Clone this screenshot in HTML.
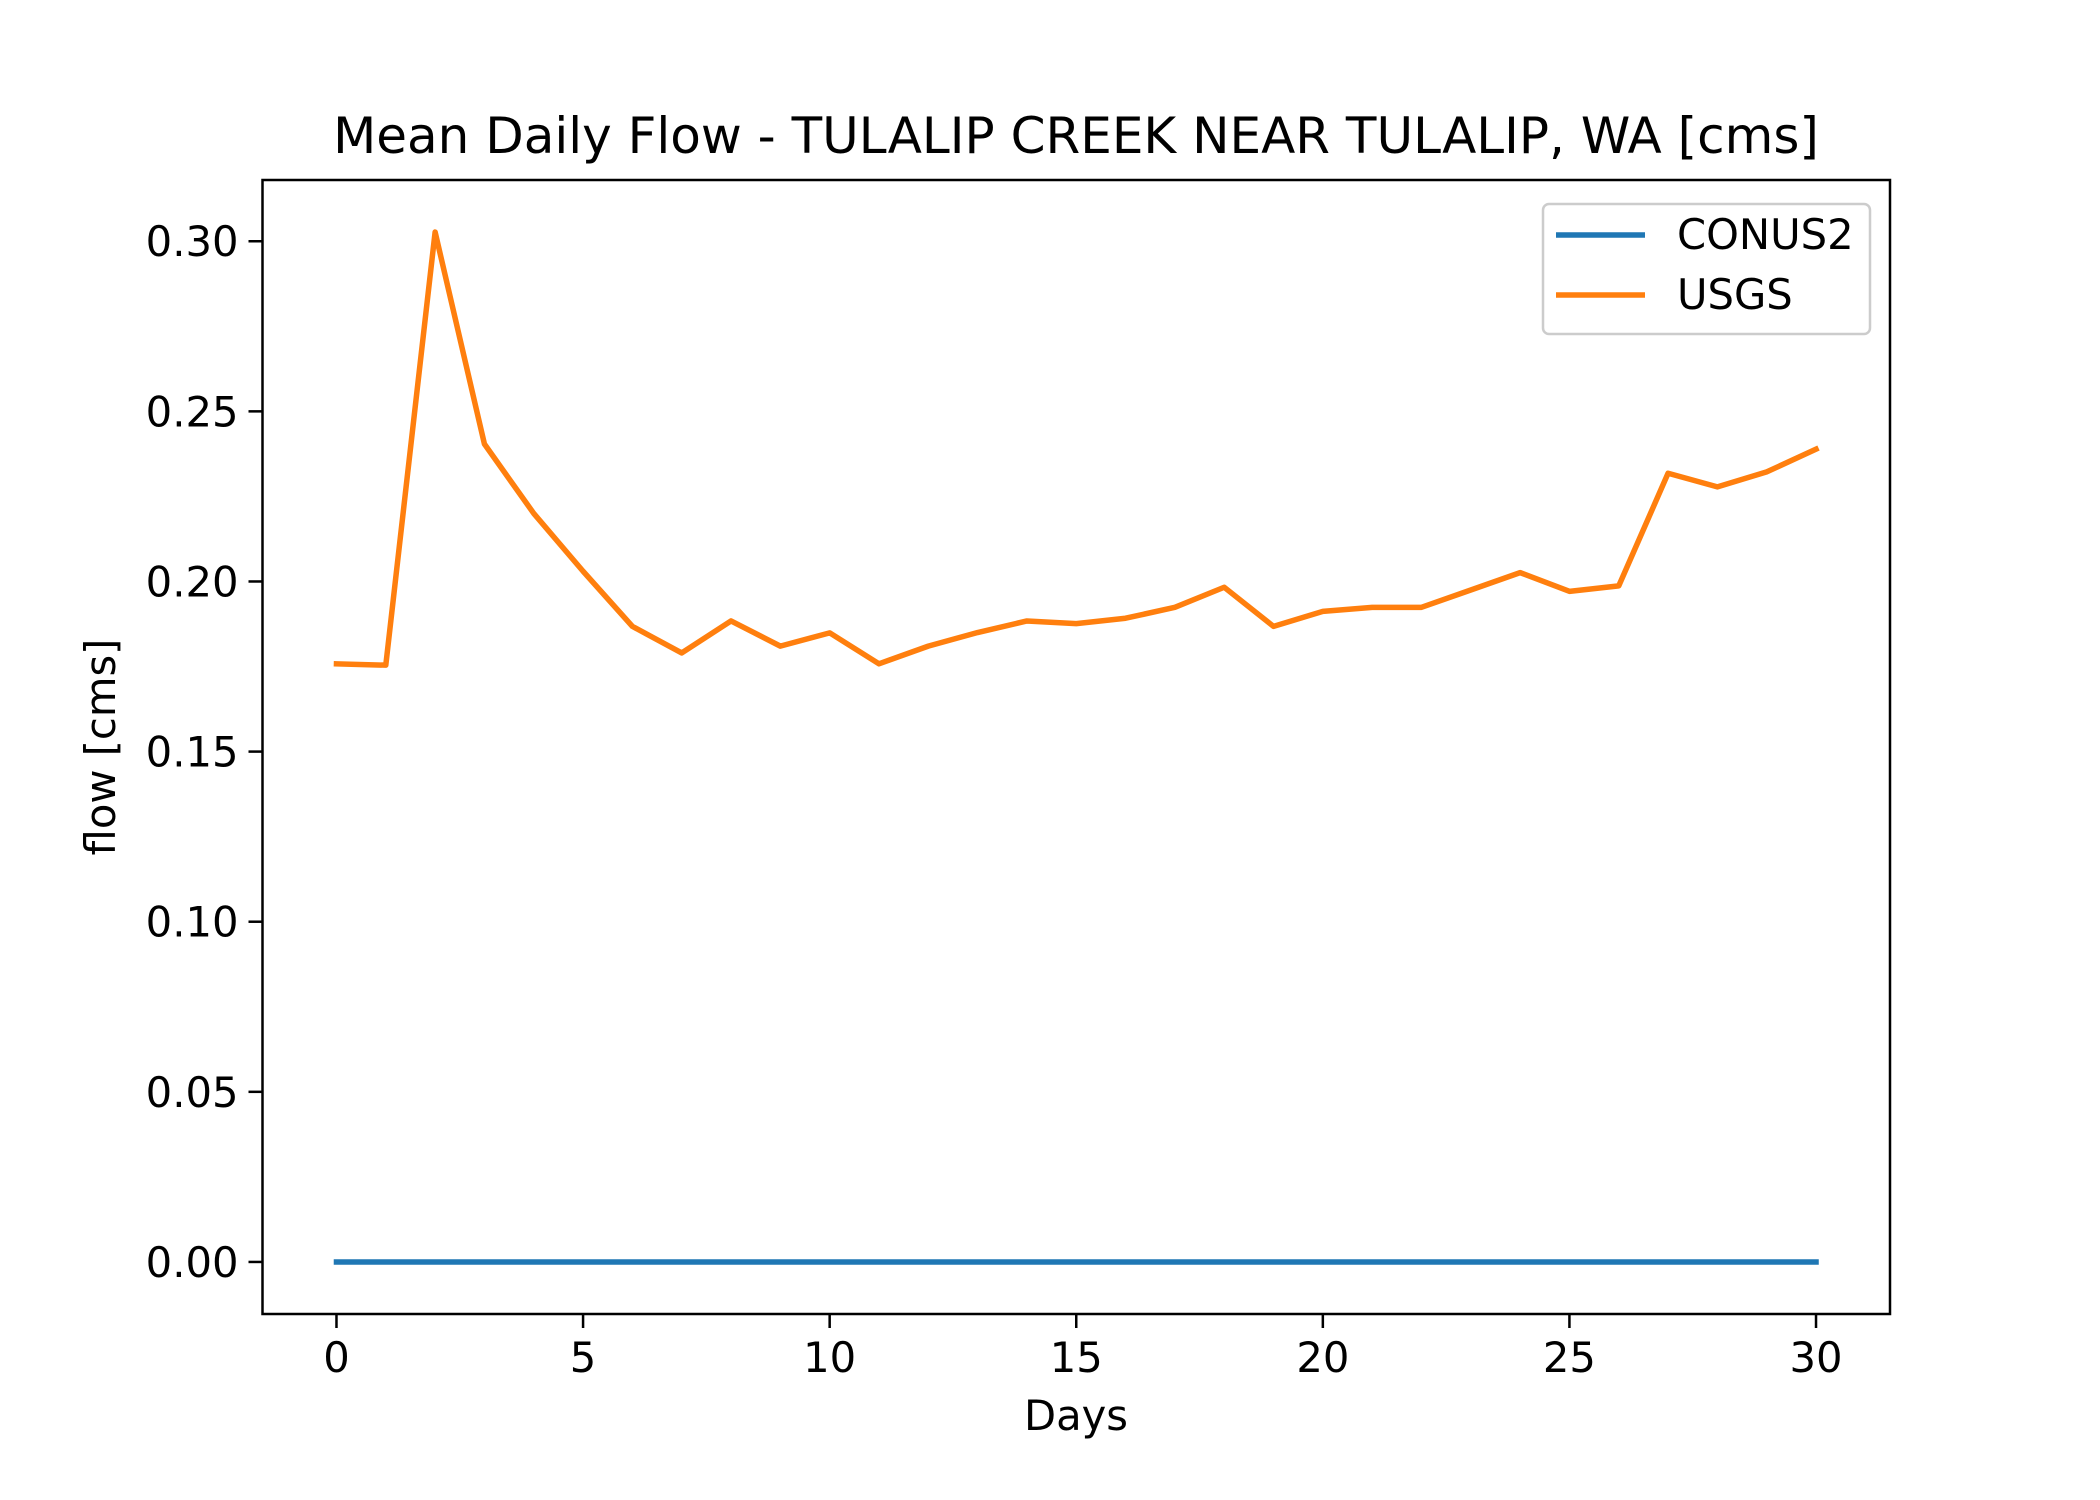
<!DOCTYPE html>
<html><head><meta charset="utf-8"><style>body{margin:0;background:#fff}svg{display:block}text{font-family:"DejaVu Sans","Liberation Sans",sans-serif;fill:#000}</style></head>
<body>
<svg id="chart" width="2100" height="1500" viewBox="0 0 2100 1500" xmlns="http://www.w3.org/2000/svg">
<rect width="2100" height="1500" fill="#fff"/>
<text x="1076" y="153" font-size="50" text-anchor="middle">Mean Daily Flow - TULALIP CREEK NEAR TULALIP, WA [cms]</text>
<g id="plot"></g>
<rect x="262.5" y="180" width="1627.5" height="1134" fill="none" stroke="#000" stroke-width="2.5"/>
<text x="1076" y="1430" font-size="41.7" text-anchor="middle">Days</text>
<text transform="translate(115,747) rotate(-90)" font-size="41.7" text-anchor="middle">flow [cms]</text>
<g>
<rect x="1543" y="204" width="327" height="130" rx="6" fill="#fff" fill-opacity="0.8" stroke="#ccc" stroke-width="2.5"/>
<line x1="1556" y1="235" x2="1645" y2="235" stroke="#1f77b4" stroke-width="5.5"/>
<text x="1677" y="249" font-size="41.7">CONUS2</text>
<line x1="1556" y1="295" x2="1645" y2="295" stroke="#ff7f0e" stroke-width="5.5"/>
<text x="1677" y="309" font-size="41.7">USGS</text>
</g>
</svg>
<script>
const days = [0,1,2,3,4,5,6,7,8,9,10,11,12,13,14,15,16,17,18,19,20,21,22,23,24,25,26,27,28,29,30];
const usgs = [0.1758,0.1754,0.3027,0.2404,0.2200,0.2030,0.1868,0.1790,0.1884,0.1810,0.1849,0.1758,0.1810,0.1850,0.1884,0.1876,0.1892,0.1924,0.1983,0.1868,0.1912,0.1924,0.1924,0.1975,0.2026,0.1971,0.1987,0.2318,0.2278,0.2322,0.2389];
const conus2 = [0,0,0,0,0,0,0,0,0,0,0,0,0,0,0,0,0,0,0,0,0,0,0,0,0,0,0,0,0,0,0];
const xTicks = [0,5,10,15,20,25,30];
const yTicks = [0.00,0.05,0.10,0.15,0.20,0.25,0.30];
const XMIN=-1.5, XMAX=31.5, YMIN=-0.0153, YMAX=0.318;
const L=262.5, R=1890, T=180, B=1314;
const sx = v => L + (v-XMIN)/(XMAX-XMIN)*(R-L);
const sy = v => B - (v-YMIN)/(YMAX-YMIN)*(B-T);
const NS='http://www.w3.org/2000/svg';
const g=document.getElementById('plot');
function mk(tag, attrs){const e=document.createElementNS(NS,tag);for(const k in attrs)e.setAttribute(k,attrs[k]);g.appendChild(e);return e;}
xTicks.forEach(t=>{
  const l=mk('line',{x1:sx(t),x2:sx(t),y1:B,y2:B+14,stroke:'#000','stroke-width':2.5});
  
  
  const tx=mk('text',{x:sx(t),y:B+58,'font-size':41.7,'text-anchor':'middle'});
  tx.textContent=t;
  
  
});
yTicks.forEach(t=>{
  const l=mk('line',{x1:L-14,x2:L,y1:sy(t),y2:sy(t),stroke:'#000','stroke-width':2.5});
  
  
  const tx=mk('text',{x:L-24,y:sy(t)+15,'font-size':41.7,'text-anchor':'end'});
  tx.textContent=t.toFixed(2);
  
  
});
function series(vals,color,name){
  const p=mk('polyline',{points:days.map((d,i)=>sx(d)+','+sy(vals[i])).join(' '),fill:'none',stroke:color,'stroke-width':5.5,'stroke-linejoin':'round','stroke-linecap':'square'});
  
  
}
series(conus2,'#1f77b4','conus2-line');
series(usgs,'#ff7f0e','usgs-line');
</script>
</body></html>
